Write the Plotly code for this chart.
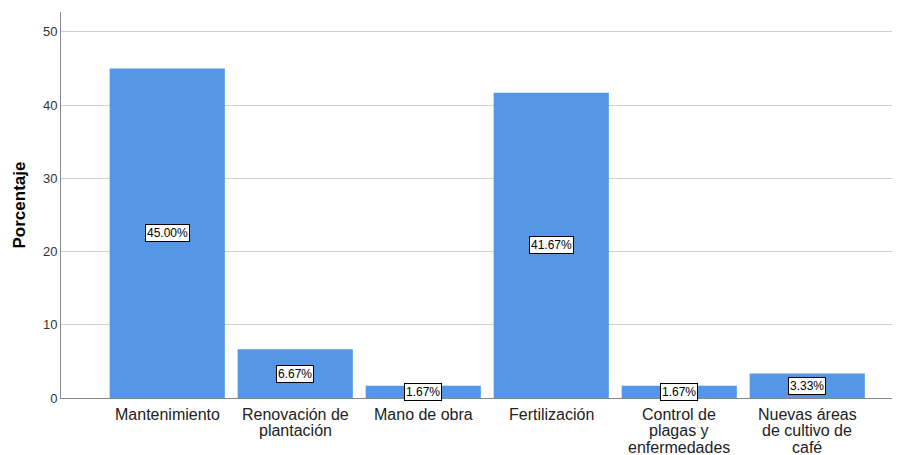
import plotly.graph_objects as go

# Categorías y porcentajes
categorias = ["Mantenimiento", "Renovación de<br>plantación", "Mano de obra", "Fertilización",
              "Control de<br>plagas y<br>enfermedades", "Nuevas áreas<br>de cultivo de<br>café"]
porcentajes = [45.00, 6.67, 1.67, 41.67, 1.67, 3.33]
y_ticks = [0, 10, 20, 30, 40, 50]

fig = go.Figure()
fig.add_trace(go.Bar(x=categorias, y=porcentajes, width=0.9,
                     marker=dict(color="#5596E6", line=dict(width=0))))

# Etiquetas de valor en el centro de cada barra
for cat, val in zip(categorias, porcentajes):
    fig.add_annotation(x=cat, y=val / 2, text=f"{val:.2f}%", showarrow=False,
                       font=dict(family="Liberation Sans, Arial", size=12, color="black"),
                       bgcolor="white", bordercolor="black", borderwidth=1, borderpad=1)

# Etiquetas de categoría (interlineado más apretado que el de plotly)
for cat in categorias:
    for i, linea in enumerate(cat.split("<br>")):
        fig.add_annotation(x=cat, y=0, yref="y", text=linea, showarrow=False,
                           yanchor="middle", yshift=-16 - 16.5 * i,
                           font=dict(family="Liberation Sans, Arial", size=16, color="#222"))

fig.update_layout(
    width=900, height=455,
    margin=dict(l=53, r=15, t=4, b=65),
    plot_bgcolor="white", paper_bgcolor="white",
    showlegend=False,
    font=dict(family="Liberation Sans, Arial", color="#222"),
)
fig.update_xaxes(range=[-0.83, 5.67], showline=True, linecolor="#888", linewidth=1,
                 ticks="", showticklabels=False, showgrid=False, automargin=False)
fig.update_yaxes(range=[0, 52.7], tickvals=y_ticks, showline=True, linecolor="#888", linewidth=1,
                 showgrid=True, gridcolor="#cfcfcf", gridwidth=1, zeroline=False,
                 tickfont=dict(size=13, color="#333"), ticks="", automargin=False,
                 title=dict(text="<b>Porcentaje</b>", font=dict(size=17, color="black"), standoff=12))

fig.write_html("out.html")
